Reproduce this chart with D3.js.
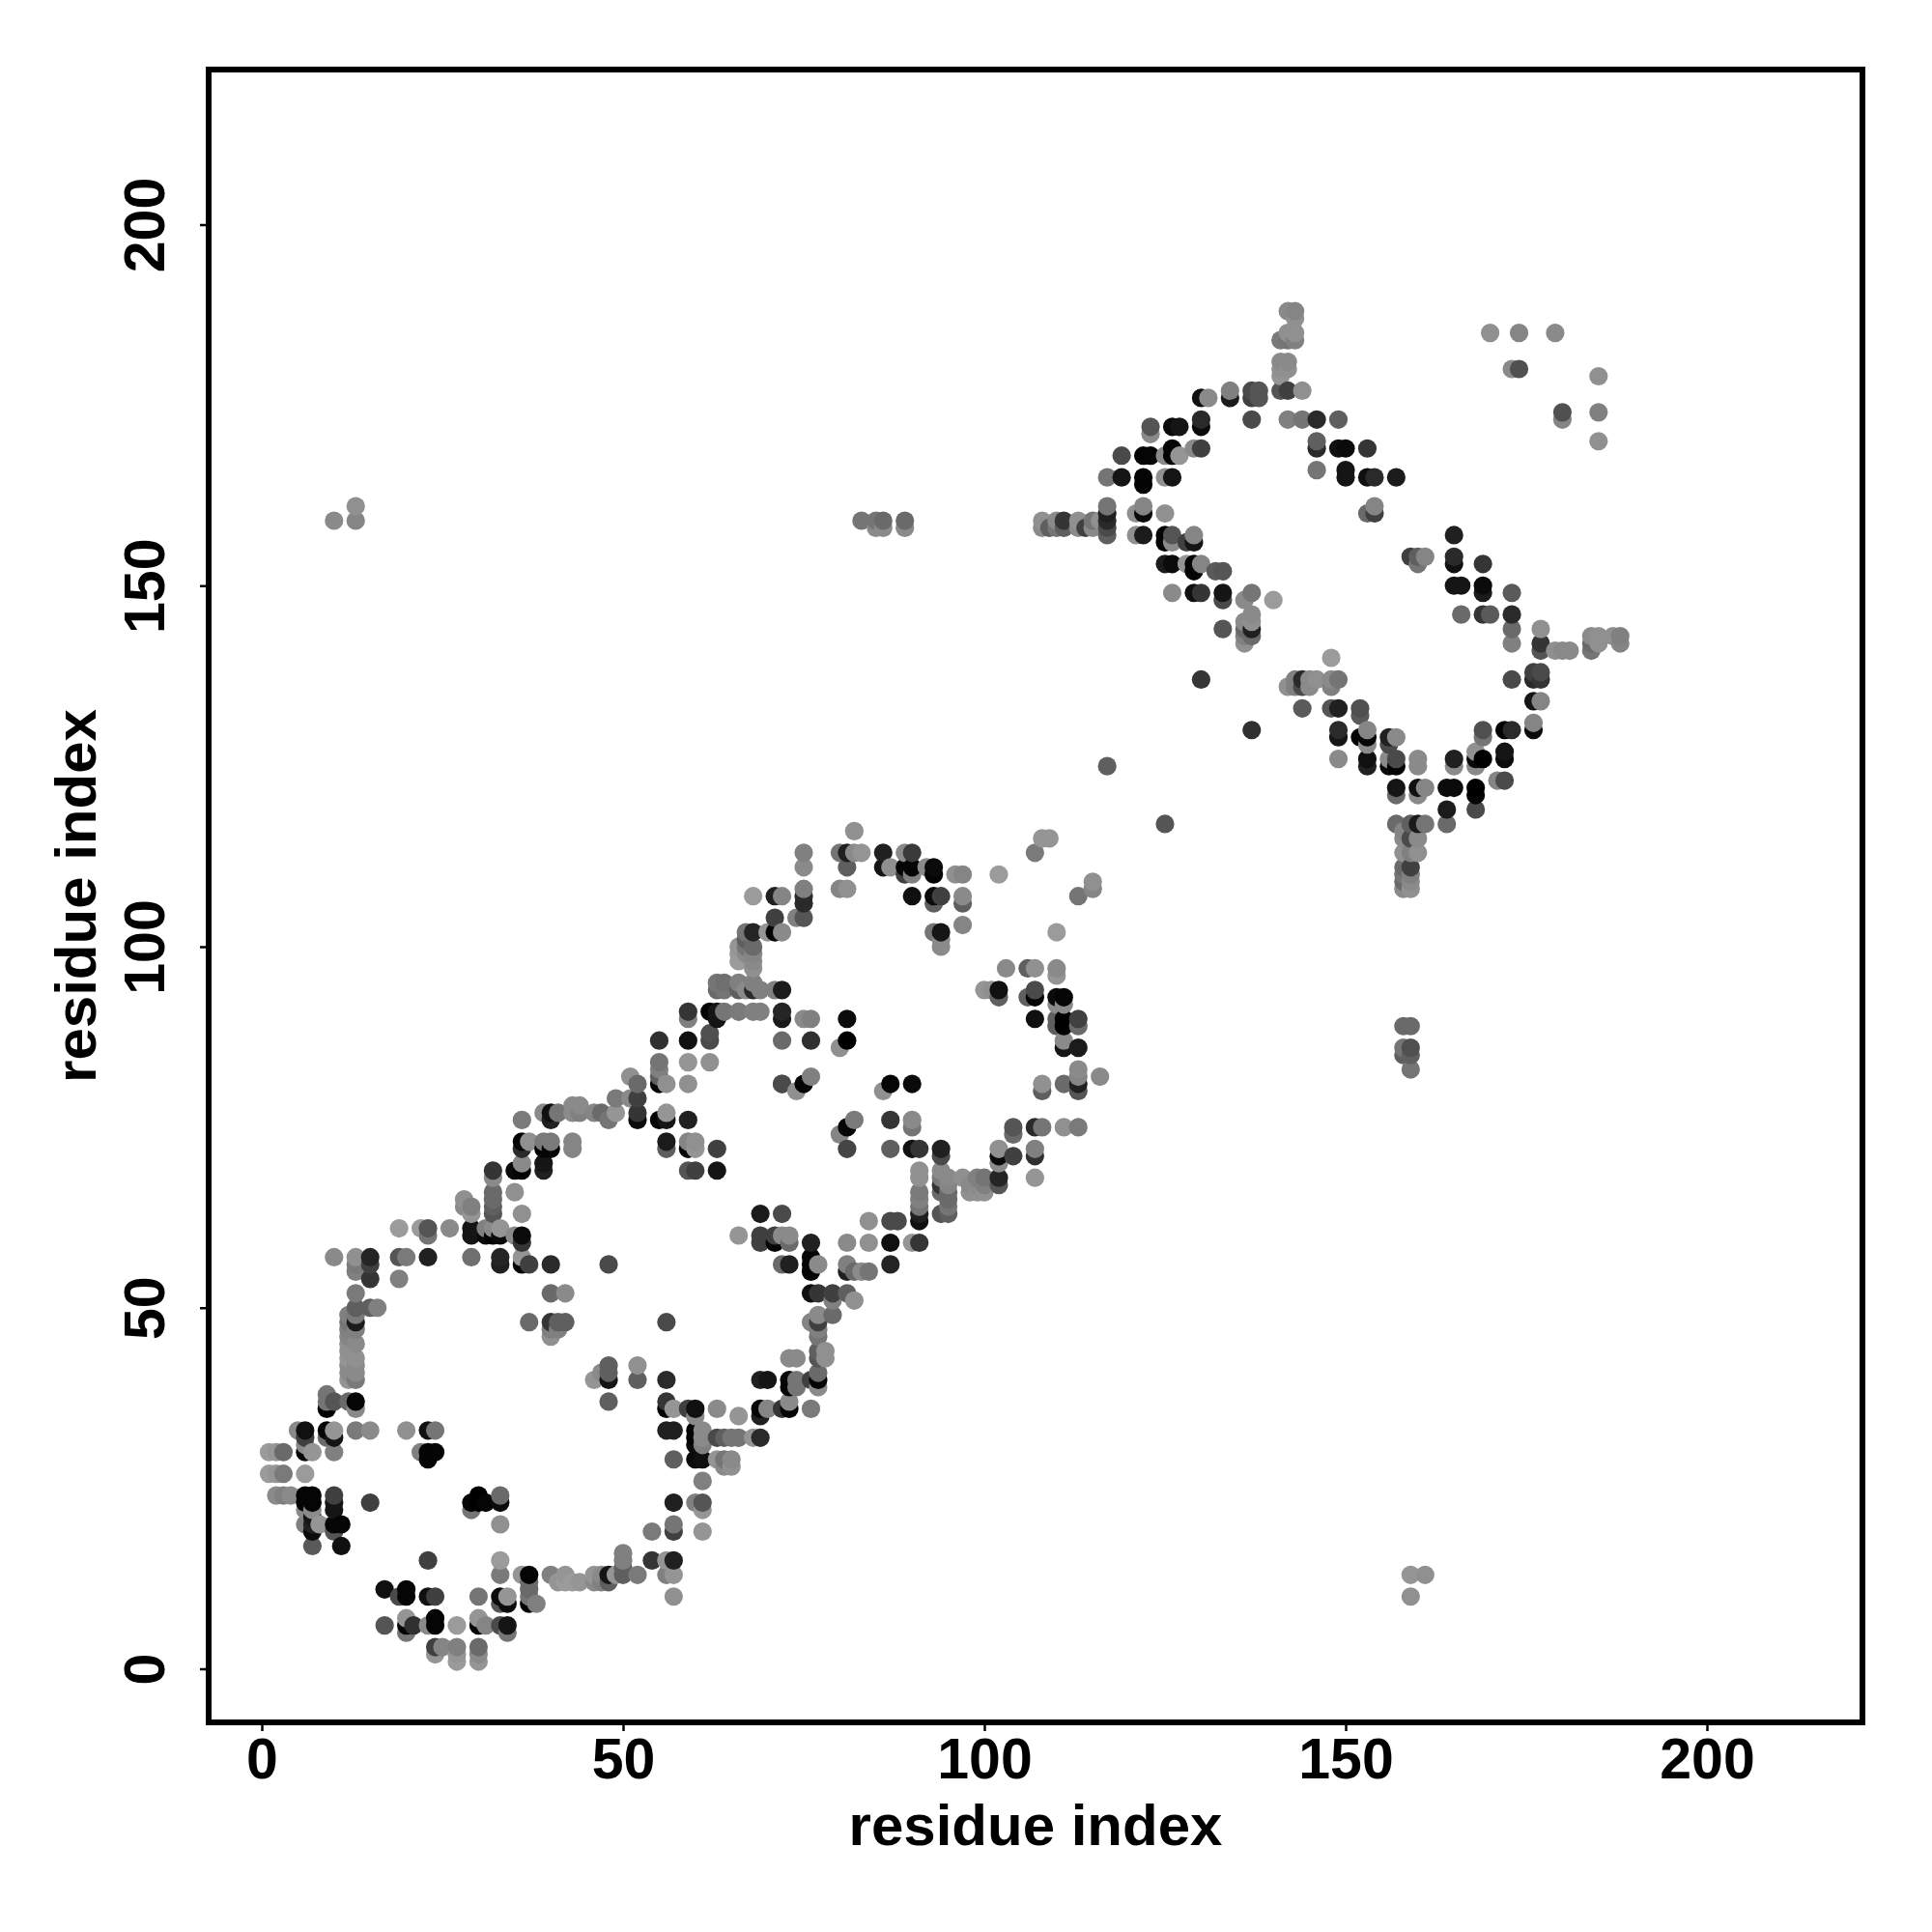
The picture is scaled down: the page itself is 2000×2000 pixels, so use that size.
<!DOCTYPE html>
<html><head><meta charset="utf-8">
<script src="https://cdnjs.cloudflare.com/ajax/libs/d3/7.8.5/d3.min.js"></script>
<style>html,body{margin:0;padding:0;background:#fff}svg{display:block}</style>
</head><body><svg id="c" width="2000" height="2000"></svg>
<script>
const tickValues=[0,50,100,150,200];
const xTitle="residue index", yTitle="residue index";
// [residue x, residue y, grey level]
const contactsBottom=[
[24,3,60],[24,2,140],[25,3,125],[27,3,120],[27,2,140],[27,1,145],[30,3,100],[30,2,130],[30,1,140],
[17,6,80],[20,6,5],[21,6,45],[23,6,130],[24,6,5],[27,6,145],[30,7,140],[30,6,5],[31,6,125],[33,6,70],[34,6,20],
[20,7,140],[24,7,5],[20,5,110],[34,5,110],[17,11,15],[20,11,5],[20,10,5],[19,10,70],[23,10,15],[24,10,60],[30,10,110],
[33,10,10],[34,10,140],[33,9,80],[34,9,10],[37,10,110],[37,11,100],[37,9,5],[38,9,120],
[33,13,115],[36,13,140],[37,13,5],[40,13,120],[42,13,140],[46,13,140],[47,13,130],[48,13,20],[49,13,140],[50,13,90],[52,13,115],[56,13,120],[57,13,140],
[37,12,100],[41,12,140],[42,12,145],[43,12,145],[44,12,140],[46,12,130],[47,12,120],[48,12,90],
[33,15,145],[23,15,60],[50,15,120],[54,15,50],[56,15,140],[57,15,30],[50,16,120],[50,14,90],[57,10,135],
[7,17,85],[11,17,15],[54,19,115],[57,19,60],[61,19,140],[57,20,110],[6,20,120],[7,20,30],[8,20,140],[10,20,5],[11,20,5],[33,20,135],
[7,19,10],[10,19,80],[7,21,20],[6,23,5],[7,23,5],[10,23,20],[15,23,60],[29,23,5],[30,23,0],[31,23,5],[33,23,10],[57,23,30],[60,23,120],[61,23,80],
[2,24,130],[3,24,120],[4,24,130],[6,24,5],[7,24,5],[10,24,60],[30,24,0],[33,24,100],[6,22,130],[7,22,130],[29,22,110],[61,22,140],[10,22,20],
[61,26,120],[1,27,145],[2,27,140],[3,27,115],[6,27,145],[1,30,145],[2,30,140],[3,30,100],[6,30,5],[7,30,140],[10,30,120],[22,30,120],[23,30,5],[24,30,5],
[23,29,5],[57,29,90],[60,29,10],[61,29,15],[63,29,140],[64,29,110],[65,29,130],[64,28,130],[65,28,135],[6,31,130]
];
const contactsLower=[
[5,33,130],[6,33,15],[6,32,60],[9,33,5],[10,33,140],[10,32,20],[9,32,100],[13,33,115],[15,33,130],[20,33,135],[23,33,15],[24,33,110],
[56,33,30],[57,33,30],[60,33,5],[61,33,130],[60,32,5],[61,32,130],[63,32,70],[64,32,90],[65,32,110],[66,32,110],[68,32,140],[69,32,40],[60,31,10],[61,31,120],
[13,36,130],[9,36,5],[56,36,5],[57,36,140],[59,36,60],[60,36,15],[63,36,130],[66,35,140],[69,36,5],[70,36,125],[72,36,50],[73,36,5],[76,36,115],[73,37,130],[69,35,30],[60,35,130],
[9,37,110],[10,37,80],[12,37,100],[13,37,5],[56,37,50],[48,37,90],[9,38,110],[13,40,115],[46,40,140],[48,40,20],[52,40,90],[56,40,40],
[69,40,30],[70,40,20],[73,40,5],[74,40,110],[76,40,60],[77,40,5],[73,39,5],[74,39,110],[77,39,130],[12,40,140],[47,41,130],[48,41,90],[12,41,130],[13,41,130],[77,41,100],
[48,42,90],[52,42,135],[12,42,130],[13,42,130],[12,43,140],[13,43,135],[73,43,130],[74,43,130],[77,43,80],[78,43,135],[77,44,90],[78,44,135],[12,44,135],[12,45,135],[13,45,130],
[40,46,135],[12,46,125],[77,46,110],[77,47,120],[40,47,120],[41,47,120],[12,47,120],[13,47,120],[37,48,100],[40,48,50],[41,48,90],[42,48,90],[56,48,70],[12,48,110],[13,48,25],[76,48,125],[77,48,60],
[12,49,120],[13,49,115],[77,49,130],[79,49,100],[13,50,90],[15,50,90],[16,50,120],[13,52,115],[40,52,100],[42,52,130],[76,52,15],[77,52,50],[79,52,60],[81,52,90],[79,51,120],[82,51,135],
[15,54,50],[19,54,120],[13,56,115],[15,56,60],[33,56,30],[36,56,5],[37,56,60],[40,56,40],[48,56,70],[72,56,100],[73,56,30],[76,56,5],[77,56,130],[81,56,120],[87,56,35],
[76,55,5],[81,55,30],[82,55,100],[83,55,130],[84,55,110],[10,57,130],[13,57,135],[13,55,120],[15,57,35],[19,57,80],[20,57,115],[23,57,30],[29,57,105],[33,57,35],[36,57,140],[76,57,5],
[23,60,110],[29,60,20],[31,60,10],[33,60,10],[36,60,10],[32,60,5],[35,60,130],[36,59,50],[19,61,145],[22,61,145],[23,61,80],[26,61,130],[29,61,20],[33,61,140],[32,61,130],[31,61,120],
[69,59,60],[71,59,5],[73,59,100],[76,59,30],[81,59,130],[84,59,135],[87,59,15],[90,59,140],[91,59,50],[69,60,60],[66,60,140],[72,60,130],[73,60,130],[71,60,60],
[69,63,25],[72,63,70],[94,63,80],[95,63,90],[91,63,30],[84,62,135],[87,62,70],[88,62,70],[91,62,15]
];
const contactsMiddle=[
[29,63,140],[28,64,130],[29,64,120],[28,65,135],[32,63,80],[32,64,90],[32,65,100],[32,66,100],[32,68,130],[32,69,50],[36,63,135],[35,66,135],[35,69,10],[36,69,5],[36,70,130],
[39,69,30],[39,70,20],[59,69,80],[60,69,60],[63,69,20],[36,72,40],[39,72,5],[40,72,5],[43,72,125],[56,72,90],[59,72,5],[60,72,140],[63,72,60],[36,73,5],[37,73,135],[39,73,115],[40,73,115],[43,73,125],
[56,73,25],[59,73,125],[60,73,135],[36,76,115],[40,76,30],[48,76,110],[52,76,10],[55,76,5],[56,76,20],[59,76,30],[39,77,130],[40,77,15],[41,77,110],[43,77,130],[44,77,120],[46,77,125],[47,77,100],[49,77,140],[52,77,50],[56,77,140],
[43,78,130],[44,78,130],[49,79,115],[51,79,130],[52,79,60],[52,81,100],[55,81,5],[56,81,135],[59,81,135],[72,81,70],[74,80,135],[75,81,5],[76,82,120],[51,82,135],[55,82,90],[55,84,110],[59,84,140],[62,84,135],[55,83,120],
[55,87,45],[59,87,15],[62,87,70],[72,87,100],[76,87,45],[62,88,75],[59,90,120],[63,90,20],[75,90,130],[76,90,120],[59,91,50],[62,91,5],[63,91,20],[64,91,110],[66,91,115],[68,91,120],[69,91,120],[72,91,35],[72,90,25],
[63,94,100],[64,94,110],[66,94,90],[67,94,130],[68,94,40],[69,94,120],[71,94,120],[72,94,25],[63,95,110],[64,95,105],[66,95,120],[68,95,120],[68,97,135],[66,98,145],[68,98,130],[66,99,145],[67,99,130],[68,99,125],[66,100,140],[67,100,110],[68,100,100],[67,101,90],
[67,102,110],[68,102,35],[70,102,140],[71,102,5],[72,102,130],[71,104,60],[74,104,120],[75,104,80],[68,107,145],[71,107,30],[72,107,125],[75,107,40],[75,106,40],[75,108,120],[75,111,130],[75,113,120],
[82,116,135],[80,113,110],[81,113,30],[82,113,130],[83,113,140],[86,113,30],[89,113,130],[90,113,55],[81,111,90],[86,111,20],[87,111,135],[89,111,5],[90,111,5],[92,111,130],[93,111,10],
[89,110,60],[90,110,120],[93,110,5],[96,110,135],[97,110,125],[102,110,145],[108,115,140],[109,115,140],[107,113,115],[80,108,125],[81,108,135],[90,107,15],[93,107,10],[94,107,60],[97,107,130],[93,106,90],[97,106,90],[97,103,125],
[113,107,110],[115,108,125],[115,109,135],[93,102,110],[94,102,20],[110,102,145],[94,101,130],[94,100,130],[103,97,130],[106,97,90],[107,97,135],[110,97,130],[110,96,140],
[100,94,140],[101,94,135],[102,94,15],[107,94,70],[102,93,90],[106,93,90],[107,93,5],[110,93,10],[111,93,5],[110,92,130],[111,92,130],[107,90,15],[110,90,90],[111,90,0],[113,90,60],[81,90,10],[110,89,90],[111,89,0],[113,89,100],
[111,87,130],[81,87,0],[80,86,135],[111,86,20],[113,86,25],[113,83,130],[116,82,130],[113,82,125],[72,81,70],[87,81,5],[90,81,10],[108,81,135],[111,81,100],[113,81,30],[86,80,135],[108,80,90],[113,80,80],
[82,76,115],[81,75,5],[80,74,125],[87,76,50],[90,76,130],[90,75,110],[104,75,80],[107,75,40],[108,75,110],[111,75,135],[113,75,115],[104,74,100],[81,72,65],[87,72,90],[90,72,15],[91,72,50],[94,72,30],[94,71,70],
[102,72,135],[107,72,120],[104,71,60],[107,71,45],[102,71,10],[102,70,130],[91,69,135],[94,69,130],[91,68,135],[94,68,115],[95,68,130],[97,68,135],[99,68,120],[100,68,110],[102,68,35],[107,68,140],
[94,67,50],[95,67,125],[98,67,130],[99,67,130],[100,67,120],[102,67,80],[91,66,115],[94,66,100],[95,66,100],[98,66,135],[99,66,135],[100,66,135],[91,65,120],[95,65,100],[91,64,110],[95,64,110]
];
const contactsUpper=[
[142,188,130],[143,188,125],[143,187,135],[142,185,135],[143,185,135],[141,184,115],[142,184,110],[143,184,120],[141,181,130],[142,181,130],[141,180,135],[142,180,135],[141,179,140],
[134,177,120],[137,177,70],[138,177,80],[141,177,80],[142,177,60],[144,177,135],[130,176,15],[131,176,130],[134,176,25],[137,176,60],[138,176,80],
[130,173,40],[137,173,70],[142,173,120],[144,173,110],[146,173,40],[149,173,90],[123,172,80],[126,172,10],[127,172,20],[130,172,10],[123,171,130],[146,170,90],
[126,169,5],[129,169,130],[130,169,60],[146,169,40],[149,169,15],[150,169,10],[153,169,50],[119,168,70],[122,168,5],[123,168,5],[125,168,130],[126,168,5],[127,168,140],
[146,166,110],[150,166,20],[117,165,110],[119,165,20],[122,165,5],[125,165,135],[126,165,20],[150,165,20],[153,165,15],[154,165,40],[157,165,25],[122,164,5],
[117,161,110],[122,161,125],[154,161,125],[117,160,30],[121,160,135],[122,160,10],[125,160,135],[153,160,100],[154,160,60],
[10,159,130],[13,161,135],[13,159,125],[83,159,110],[85,158,130],[85,159,110],[86,159,100],[86,158,130],[89,159,100],[89,158,130],
[108,159,135],[110,159,130],[111,159,50],[113,159,135],[115,159,110],[116,159,135],[117,159,40],[108,158,130],[109,158,90],[110,158,110],[111,158,90],[113,158,130],[114,158,60],[115,158,130],[117,158,70],
[117,157,90],[121,157,135],[122,157,25],[125,157,5],[126,157,80],[129,157,125],[125,156,5],[126,156,130],[128,156,60],[129,156,20],[125,153,25],[126,153,10],[128,153,140],[129,153,5],[130,153,125],
[159,154,60],[160,154,90],[161,154,125],[160,153,110],[165,157,30],[165,154,40],[165,153,15],[169,153,50],[165,150,20],[166,150,20],[169,150,10],[169,149,25],[173,149,85],[166,146,100],[169,146,50],[170,146,85],[173,146,40],
[129,152,5],[132,152,85],[133,152,80],[126,149,130],[129,149,15],[130,149,50],[133,149,20],[137,149,110],[133,148,70],[136,148,130],[140,148,145],[137,146,130],[136,145,130],[137,145,135],[133,144,80],[136,144,100],[137,144,30],[136,143,120],[137,143,100],[136,142,135],
[173,144,100],[177,144,135],[184,143,130],[185,143,135],[187,143,135],[188,143,120],[173,142,120],[177,142,50],[184,142,100],[185,142,135],[188,142,125],[177,141,80],[179,141,135],[180,141,130],[181,141,130],[184,141,110],
[148,140,145],[176,138,60],[177,138,70],[130,137,50],[143,137,120],[144,137,40],[145,137,130],[146,137,135],[148,137,130],[149,137,110],[173,137,70],[176,137,40],[177,137,50],[142,136,135],[143,136,120],[144,136,70],[145,136,130],[148,136,120],
[144,133,85],[148,133,80],[149,133,30],[152,133,75],[152,132,85],[176,134,20],[177,134,125],[137,130,45],[149,130,40],[153,130,125],[172,130,5],[173,130,40],[176,130,10],[169,130,75],[176,131,125],
[149,129,20],[152,129,5],[153,129,5],[156,129,30],[157,129,130],[169,129,110],[153,128,130],[156,128,70],[168,127,135],[172,127,20],[149,126,130],[153,126,15],[156,126,130],[157,126,70],[160,126,130],[165,126,30],[168,126,10],[169,126,0],[172,126,10],
[153,125,30],[156,125,10],[157,125,5],[165,125,130],[168,125,130],[160,125,130],[117,125,90],[171,123,125],[172,123,70],[157,122,20],[160,122,15],[161,122,125],[164,122,10],[165,122,10],[168,122,0],[168,121,5],[157,121,100],[160,121,130],
[164,119,25],[168,119,70],[125,117,80],[157,117,100],[159,117,90],[160,117,25],[161,117,110],[164,117,100],[158,116,125],[158,115,130],[159,115,70],[160,115,130],[158,113,135],[159,113,120],[160,113,135],[158,111,100],[159,111,60],[158,110,110],[159,110,120],[158,109,100],[159,109,130],[158,108,130],[159,108,135],
[158,89,100],[159,89,100],[158,86,110],[159,86,75],[158,85,90],[159,85,90],[159,83,110],[159,13,140],[161,13,135],[159,10,135],
[170,185,135],[174,185,125],[179,185,130],[173,180,130],[174,180,75],[185,179,135],[180,174,75],[185,174,120],[180,173,125],[185,170,135]
];
const contacts=[...contactsBottom,...contactsLower,...contactsMiddle,...contactsUpper]
  .sort((a,b)=>d3.ascending(a[0],b[0])||d3.ascending(a[1],b[1]));

const svg=d3.select("#c"), font="'Liberation Sans',Arial,sans-serif";
const x=d3.scaleLinear().domain([0,200]).range([271,1767]);
const y=d3.scaleLinear().domain([0,200]).range([1727.5,232.5]);
const shade=d3.scaleLinear().domain([0,100,150]).range([0,106,160]).clamp(true);
const L=216,R=1928,T=72,B=1783;

svg.append("g").selectAll("circle").data(contacts).join("circle")
  .attr("cx",d=>x(d[0])).attr("cy",d=>y(d[1])).attr("r",9.6)
  .attr("fill",d=>{const g=Math.round(shade(d[2]));return d3.rgb(g,g,g).formatHex();});

svg.append("rect").attr("x",L).attr("y",T).attr("width",R-L).attr("height",B-T)
  .attr("fill","none").attr("stroke","#000").attr("stroke-width",6);

const gx=svg.append("g").attr("transform",`translate(0,${B})`)
  .call(d3.axisBottom(x).tickValues(tickValues).tickSize(9).tickFormat(d3.format("d")));
const gy=svg.append("g").attr("transform",`translate(${L},0)`)
  .call(d3.axisLeft(y).tickValues(tickValues).tickSize(9).tickFormat(d3.format("d")));
gx.select(".domain").remove(); gy.select(".domain").remove();
svg.selectAll(".tick line").attr("stroke","#000").attr("stroke-width",2.5);
gx.selectAll("text").attr("font-family",font).attr("font-size",59).attr("font-weight","bold").attr("fill","#000")
  .attr("y",58).attr("dy",0);
gy.selectAll("text").attr("font-family",font).attr("font-size",59).attr("font-weight","bold").attr("fill","#000")
  .attr("x",null).attr("dy",0).attr("text-anchor","middle").attr("transform","translate(-46,0) rotate(-90)").attr("y",0);

svg.append("text").attr("x",(L+R)/2).attr("y",1910).attr("text-anchor","middle")
  .attr("font-family",font).attr("font-size",60).attr("font-weight","bold").text(xTitle);
svg.append("text").attr("transform",`translate(99,${(T+B)/2}) rotate(-90)`).attr("text-anchor","middle")
  .attr("font-family",font).attr("font-size",60).attr("font-weight","bold").text(yTitle);
</script></body></html>
